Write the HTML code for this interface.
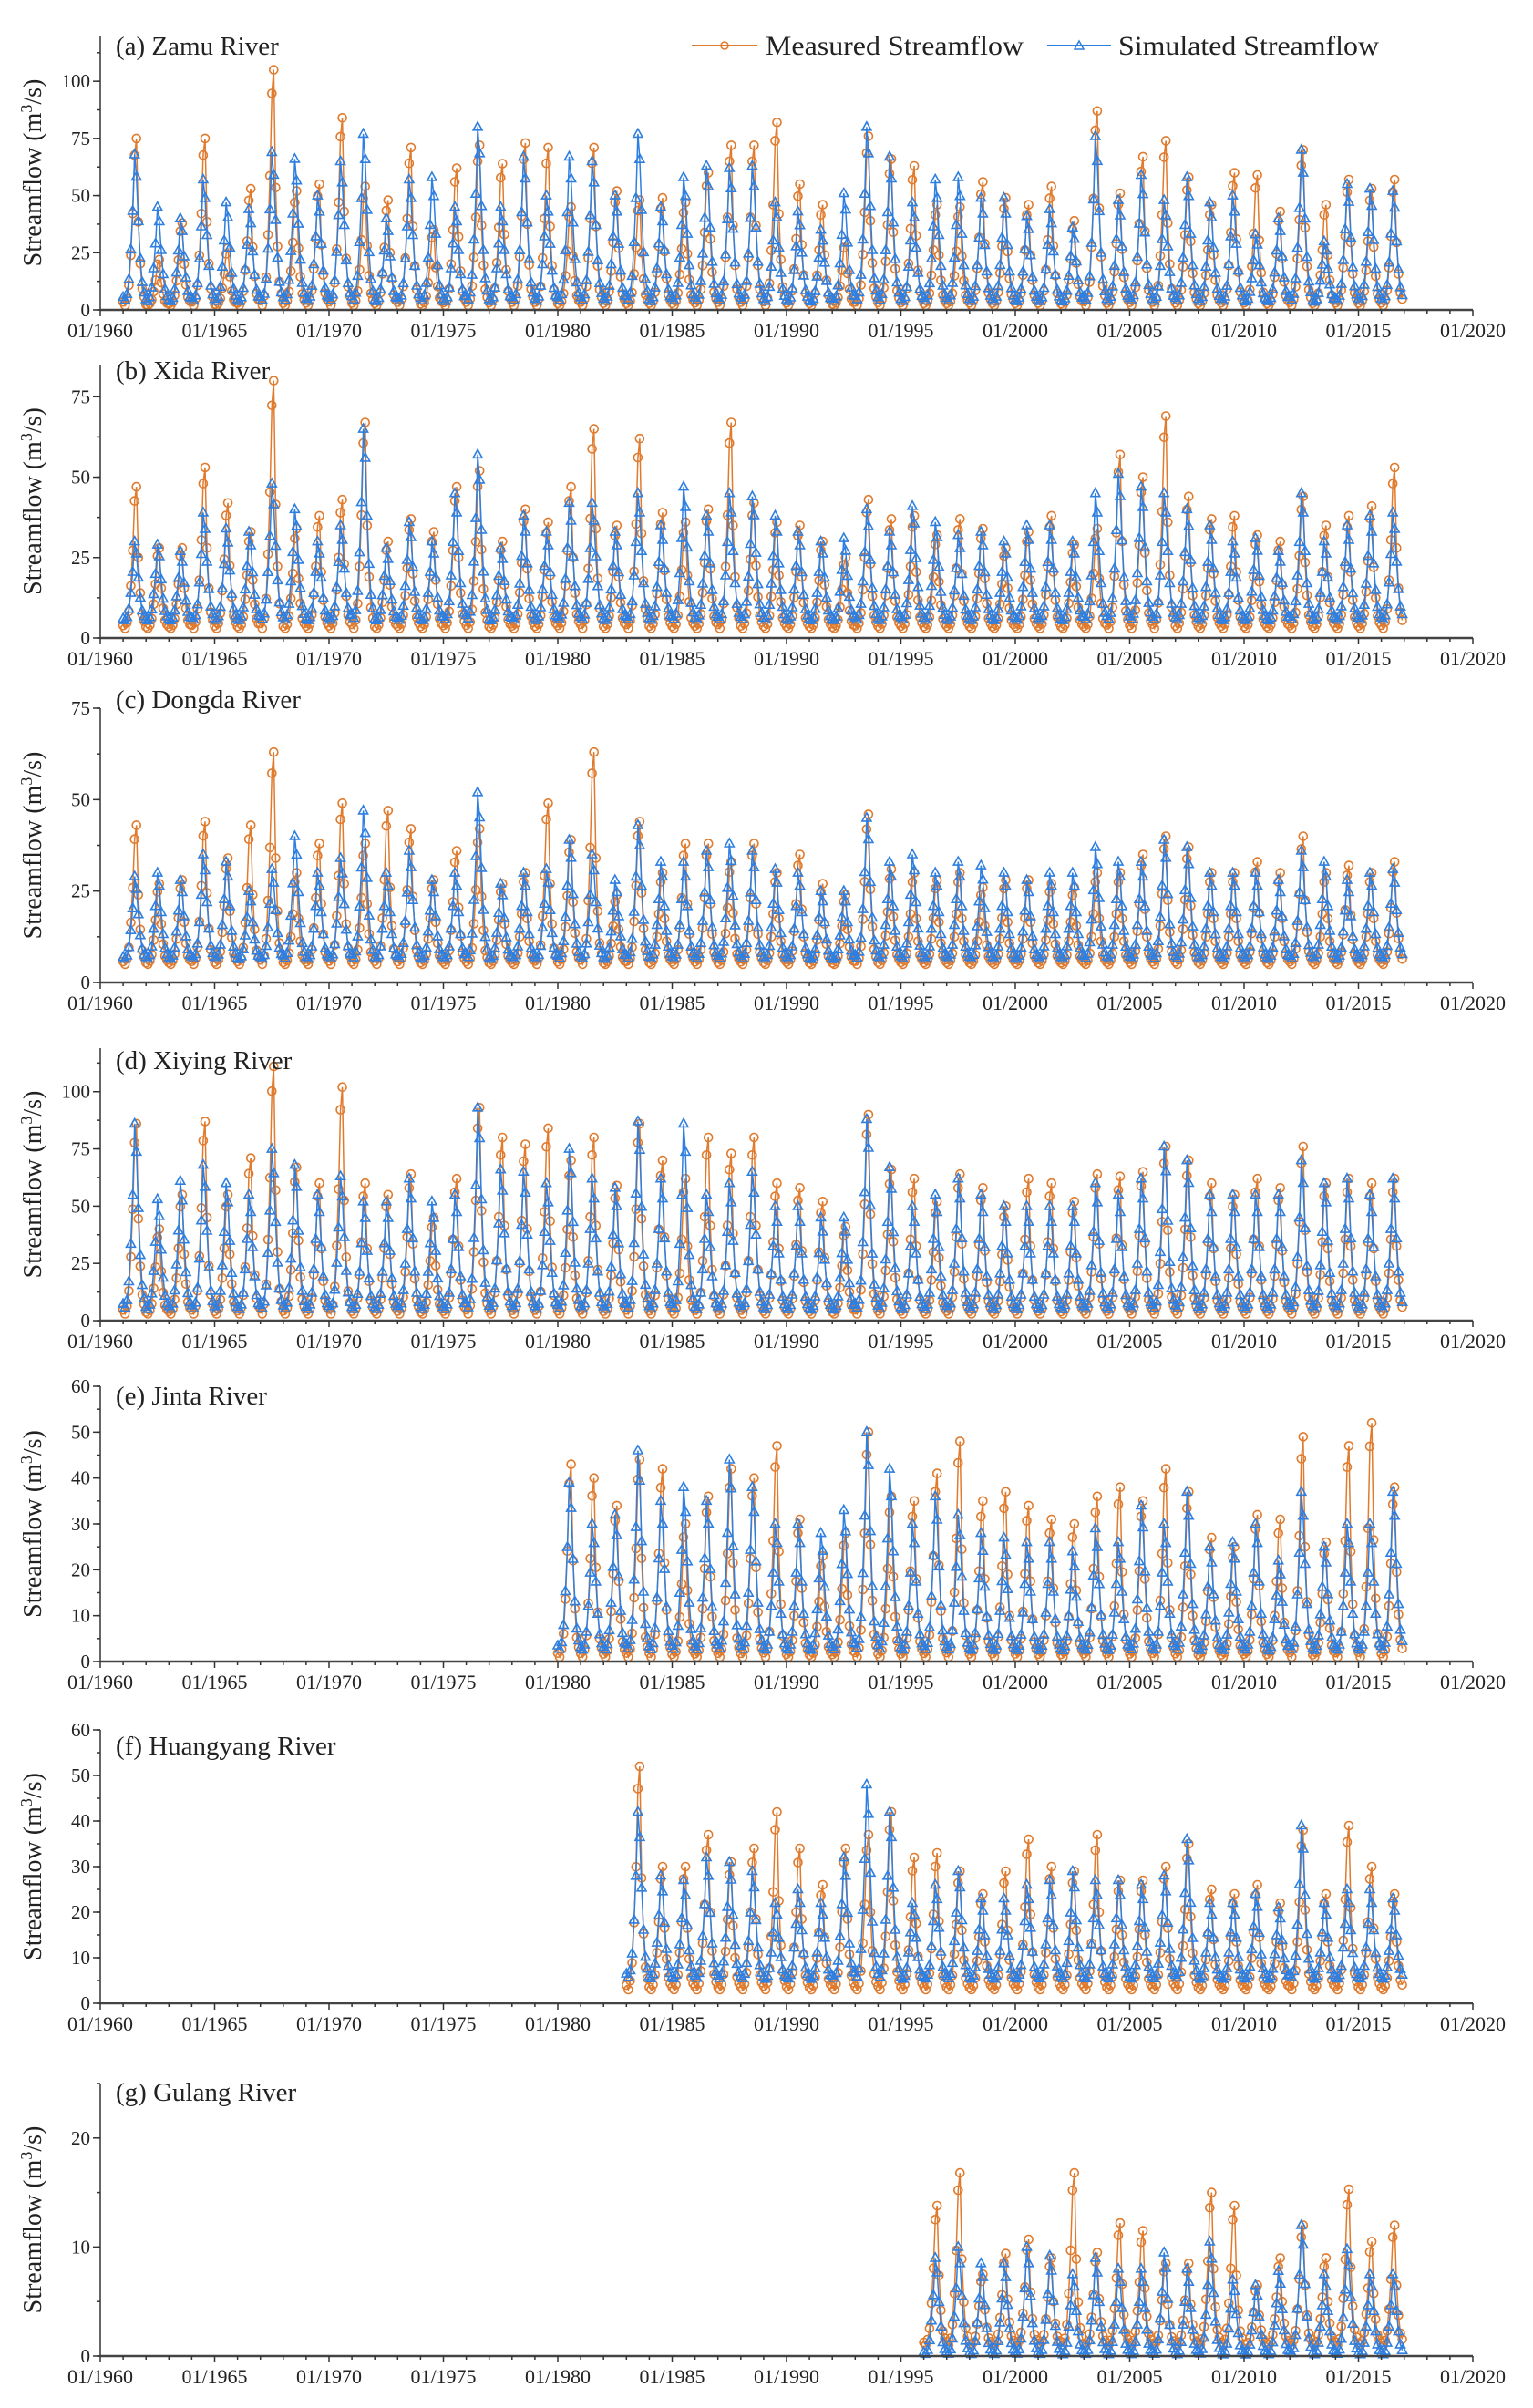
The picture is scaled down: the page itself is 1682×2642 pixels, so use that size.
<!DOCTYPE html>
<html>
<head>
<meta charset="utf-8">
<style>
  html, body { margin: 0; padding: 0; background: #ffffff; }
  svg { display: block; }
  text { font-family: "Liberation Serif", "DejaVu Serif", serif; fill: #222; }
</style>
</head>
<body>
<svg id="chart" width="1682" height="2642" viewBox="0 0 1682 2642" xmlns="http://www.w3.org/2000/svg">
  <rect x="0" y="0" width="1682" height="2642" fill="#ffffff"/>
  <g id="legend">
    <g>
      <line x1="759" y1="50" x2="831" y2="50" stroke="#E07B2E" stroke-width="2"/>
      <circle cx="795" cy="50" r="4" fill="none" stroke="#E07B2E" stroke-width="1.5"/>
      <text x="840" y="60" font-size="30" textLength="283" lengthAdjust="spacingAndGlyphs">Measured Streamflow</text>
    </g>
    <g>
      <line x1="1149" y1="50" x2="1219" y2="50" stroke="#2E7FE0" stroke-width="2"/>
      <path d="M1184,45 L1189,54 L1179,54 Z" fill="none" stroke="#2E7FE0" stroke-width="1.5"/>
      <text x="1227" y="60" font-size="30" textLength="286" lengthAdjust="spacingAndGlyphs">Simulated Streamflow</text>
    </g>
  </g>
</svg>
<script>
// ---- data (annual peak flows, m3/s) ----
const aMeas = [75,22,38,75,27,53,105,52,55,84,54,48,71,35,62,72,64,73,71,45,71,52,48,49,47,60,72,72,82,55,46,30,76,66,63,46,45,56,49,46,54,39,87,51,67,74,58,46,60,59,43,70,46,57,53,57];
const aSim  = [68,45,40,57,47,44,69,66,50,65,77,40,57,58,45,80,45,67,50,67,65,50,77,45,58,63,62,63,47,43,35,51,80,67,47,57,58,49,49,41,44,36,76,48,59,48,58,47,50,33,40,70,30,55,53,52];
const bMeas = [47,28,28,53,42,33,80,34,38,43,67,30,37,33,47,52,30,40,36,47,65,35,62,39,36,40,67,42,36,35,30,25,43,37,38,32,37,34,28,33,38,29,34,57,50,69,44,37,38,32,30,44,35,38,41,53];
const bSim  = [30,29,27,39,34,33,48,40,30,35,65,28,36,30,45,57,28,38,33,42,42,33,45,35,47,38,45,44,38,33,30,31,40,33,41,36,32,33,30,35,35,30,45,51,47,45,40,35,30,31,27,45,30,35,38,39];
const cMeas = [43,27,28,44,34,43,63,30,38,49,38,47,42,28,36,42,27,30,49,39,63,24,44,30,38,38,33,38,30,35,27,24,46,31,30,28,30,26,28,28,27,26,30,30,35,40,37,30,30,33,30,40,30,32,30,33];
const cSim  = [29,30,28,35,33,25,31,40,30,34,47,30,36,28,30,52,27,30,31,39,35,28,43,33,33,36,38,36,31,30,25,25,45,33,35,30,33,32,30,28,30,30,37,33,33,39,37,30,30,30,28,36,33,28,30,31];
const dMeas = [86,40,55,87,55,71,111,67,60,102,60,55,64,45,62,93,80,77,84,70,80,59,86,70,62,80,73,80,60,58,52,41,90,66,62,52,64,58,50,62,60,52,64,63,65,76,70,60,55,62,58,76,60,62,60,62];
const dSim  = [86,53,61,68,60,55,75,68,55,63,52,52,62,52,55,93,66,65,60,75,62,58,87,62,86,55,60,65,50,50,45,45,88,67,50,55,62,55,50,50,50,50,60,55,62,76,70,55,55,55,55,70,60,62,55,62];
const eMeas = [43,40,34,44,42,30,36,42,40,47,31,23,28,50,36,35,41,48,35,37,34,31,30,36,38,35,42,37,27,25,32,31,49,26,47,52,38];
const eSim  = [39,30,32,46,35,38,35,44,38,30,30,28,33,50,42,30,36,32,28,27,26,26,24,29,26,34,30,37,25,26,30,22,37,25,30,30,37];
const fMeas = [52,30,30,37,31,34,42,34,26,34,37,42,32,33,29,24,29,36,30,29,37,27,27,30,35,25,24,26,22,38,24,39,30,24];
const fSim  = [42,28,27,32,31,29,22,25,22,32,48,42,22,26,29,23,23,26,27,29,27,27,26,28,36,22,22,24,21,39,22,25,25,23];
const gMeas = [13.8,16.8,7.5,9.4,10.7,9,16.8,9.5,12.2,11.5,8.5,8.5,15,13.8,6.5,9,12,9,15.3,10.5,12];
const gSim  = [9,10,8.5,8.5,10,9.2,7.5,9,8,8,9.5,8,10.5,7,6.5,7.8,12,7.5,9.8,7.5,7.5];
const startYears = [1961,1961,1961,1961,1980,1983,1996];
const baseMeas = [2,3,5,3,1,3,1];
const baseSim  = [3,5,6,4,2,5,0];
const shapeMeas = [0.02,0.0,0.04,0.12,0.3,0.55,0.9,1.0,0.5,0.25,0.1,0.05];
const shapeSim  = [0.04,0.02,0.06,0.16,0.36,0.62,1.0,0.85,0.55,0.3,0.14,0.07];
const panelTitles = ["(a) Zamu River","(b) Xida River","(c) Dongda River","(d) Xiying River","(e) Jinta River","(f) Huangyang River","(g) Gulang River"];
const xTickYears = [1960,1965,1970,1975,1980,1985,1990,1995,2000,2005,2010,2015,2020];
const yTicksA = [0,25,50,75,100];
const yTicksB = [0,25,50,75];
const yTicksE = [0,10,20,30,40,50,60];
const yTicksG = [0,10,20];

// ---- layout ----
const NS = "http://www.w3.org/2000/svg";
const svg = document.getElementById("chart");
const X0 = 110, X1 = 1616, T0 = 1960, T1 = 2020;
function xScale(t) { return X0 + (t - T0) * (X1 - X0) / (T1 - T0); }
const panels = [
  {meas:aMeas, sim:aSim, y0:340, ymax:120, top:39, ticks:yTicksA, minor:12.5, titleY:60, key:"a"},
  {meas:bMeas, sim:bSim, y0:700, ymax:85, top:400, ticks:yTicksB, minor:12.5, titleY:416, key:"b"},
  {meas:cMeas, sim:cSim, y0:1078, ymax:75, top:777, ticks:yTicksB, minor:12.5, titleY:777, key:"c"},
  {meas:dMeas, sim:dSim, y0:1449, ymax:119, top:1150, ticks:yTicksA, minor:12.5, titleY:1173, key:"d"},
  {meas:eMeas, sim:eSim, y0:1823, ymax:60, top:1521, ticks:yTicksE, minor:5, titleY:1541, key:"e"},
  {meas:fMeas, sim:fSim, y0:2198, ymax:60, top:1898, ticks:yTicksE, minor:5, titleY:1925, key:"f"},
  {meas:gMeas, sim:gSim, y0:2585, ymax:25, top:2286, ticks:yTicksG, minor:5, titleY:2305, key:"g"}
];
function mk(tag, attrs, parent) {
  const e = document.createElementNS(NS, tag);
  for (const k in attrs) e.setAttribute(k, attrs[k]);
  (parent || svg).appendChild(e);
  return e;
}

panels.forEach((p, i) => {
  const g = mk("g", {});
  
  
  const sc = (p.y0 - p.top) / p.ymax;
  const yS = v => p.y0 - v * sc;

  const start = startYears[i];
  function series(vals, base, shape, color, kind) {
    const pts = [];
    vals.forEach((pk, yi) => {
      for (let m = 0; m < 12; m++) {
        const v = base + (pk - base) * shape[m];
        pts.push([xScale(start + yi + m / 12), yS(v)]);
      }
    });
    const sg = mk("g", {}, g);
    
    
    const pl = mk("polyline", {points: pts.map(q => q[0].toFixed(1) + "," + q[1].toFixed(1)).join(" "), fill: "none", stroke: color, "stroke-width": 1.5}, sg);
    
    
    const mg = mk("g", {fill: "none", stroke: color, "stroke-width": 1.6}, sg);
    
    
    let d = "";
    pts.forEach(q => {
      if (kind === "measured") {
        d += `M${(q[0]+4.5).toFixed(1)},${q[1].toFixed(1)}a4.5,4.5 0 1,0 -9,0a4.5,4.5 0 1,0 9,0`;
      } else {
        d += `M${q[0].toFixed(1)},${(q[1]-5.5).toFixed(1)}l5,9h-10z`;
      }
    });
    const mp = mk("path", {d: d}, mg);
    
    
  }
  series(p.meas, baseMeas[i], shapeMeas, "#E07B2E", "measured");
  series(p.sim, baseSim[i], shapeSim, "#2E7FE0", "simulated");

  const ax = mk("g", {stroke: "#333", "stroke-width": 1.5}, g);
  
  
  const yl = mk("line", {x1: X0, y1: p.top, x2: X0, y2: p.y0}, ax);
  
  
  const xl = mk("line", {x1: X0, y1: p.y0, x2: X1, y2: p.y0, "stroke-width": 2.5, stroke: "#444"}, ax);
  
  
  for (let v = 0; v <= p.ymax + 0.01; v += p.minor) {
    mk("line", {x1: X0 - 4, y1: yS(v), x2: X0, y2: yS(v)}, ax);
  }
  p.ticks.forEach(v => {
    mk("line", {x1: X0 - 8, y1: yS(v), x2: X0, y2: yS(v)}, ax);
    const t = mk("text", {x: X0 - 11, y: yS(v) + 7, "font-size": 21, "text-anchor": "end"}, g);
    t.textContent = v;
    
    
  });
  for (let yr = T0; yr <= T1; yr++) {
    const major = (yr % 5 === 0);
    mk("line", {x1: xScale(yr), y1: p.y0, x2: xScale(yr), y2: p.y0 + (major ? 7 : 4)}, ax);
  }
  xTickYears.forEach(yr => {
    const t = mk("text", {x: xScale(yr), y: p.y0 + 30, "font-size": 22, "text-anchor": "middle"}, g);
    t.textContent = "01/" + yr;
    
    
  });

  const tt = mk("text", {x: 127, y: p.titleY, "font-size": 29}, g);
  tt.textContent = panelTitles[i];
  
  
  const ym = (p.top + p.y0) / 2;
  const yt = mk("text", {x: 0, y: 0, "font-size": 28, "text-anchor": "middle", transform: `translate(45,${ym}) rotate(-90)`}, g);
  
  
  yt.appendChild(document.createTextNode("Streamflow (m"));
  const sup = document.createElementNS(NS, "tspan");
  sup.setAttribute("dy", "-10");
  sup.setAttribute("font-size", "18");
  sup.textContent = "3";
  yt.appendChild(sup);
  const rest = document.createElementNS(NS, "tspan");
  rest.setAttribute("dy", "10");
  rest.textContent = "/s)";
  yt.appendChild(rest);
});
svg.appendChild(document.getElementById("legend"));
</script>
</body>
</html>
